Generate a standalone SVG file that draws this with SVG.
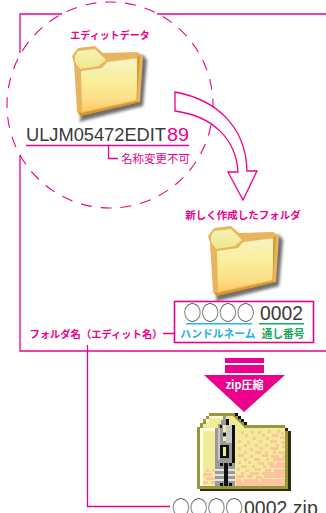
<svg xmlns="http://www.w3.org/2000/svg" width="326" height="513" viewBox="0 0 326 513">
<style>
.ln{fill:none;stroke:#ec008c;stroke-width:1.3}
.t{font-family:"Noto Sans CJK JP","Liberation Sans",sans-serif;fill:#ec008c;text-anchor:middle}
.b{font-weight:700}
.n{font-family:"Liberation Sans","Noto Sans CJK JP",sans-serif;fill:#3a3a3a}
.c{font-family:"Noto Sans CJK JP",sans-serif;fill:#444}
</style>
<defs>
<linearGradient id="fb" x1="0" y1="0" x2="0" y2="1"><stop offset="0" stop-color="#f7f4c4"/><stop offset=".4" stop-color="#f9ef9c"/><stop offset=".75" stop-color="#fde08a"/><stop offset="1" stop-color="#ffc860"/></linearGradient>
<linearGradient id="ft" x1="0" y1="0" x2="0" y2="1"><stop offset="0" stop-color="#f6f2b4"/><stop offset="1" stop-color="#efe88c"/></linearGradient>
<filter id="sh" x="-20%" y="-20%" width="140%" height="140%"><feGaussianBlur stdDeviation="1.5"/></filter>
<filter id="so" x="-5%" y="-5%" width="110%" height="110%"><feGaussianBlur stdDeviation=".45"/></filter>
<g id="folder">
<path d="M84 60L143 55L147 60L143 106L82 121L80 123Z" fill="#333" opacity=".7" filter="url(#sh)"/>
<g filter="url(#so)">
<path d="M78 48L95 46L103 53L137 52L143 56L140 102L80 116L77 112L74 63L72 56Z" fill="#e8b460"/>
<path d="M78 51L95 49L102 56L106 60L99 66L80 69L75 62L75 56Z" fill="url(#ft)"/>
<path d="M81 71L102 68L107 62L139 58L136 100L82 112Z" fill="url(#fb)"/>
<path d="M82 113L137 101L140 102L80 116L79 112Z" fill="#dc9420"/>
<path d="M137 57L140 56L137 101Z" fill="#dc9c30"/>
</g>
</g>
</defs>
<g id="connectors">
<path class="ln" d="M62 14H20V53M20 155V351H326M157 14H326"/>
<path class="ln" d="M163 333.500H174M87.500 345V506.500H170M108.500 146V158.500H118"/>
</g>
<g id="circle"><circle cx="110" cy="105" r="103" fill="none" stroke="#ec008c" stroke-width="1.1" stroke-dasharray="11 9"/></g>
<g id="big-arrow"><path d="M175 92C218 100 246 128 247 171L257 171L243 200L228 172L238 172C236 138 212 116 175 111Z" fill="#fff" stroke="#ec008c" stroke-width="1.300"/></g>
<g id="edit-data">
<text class="t b" x="110" y="39" font-size="10">エディットデータ</text>
<use href="#folder"/>
<text class="n" x="26" y="140.500" font-size="17.500" textLength="140" lengthAdjust="spacingAndGlyphs">ULJM05472EDIT</text>
<text class="n" x="167" y="140.500" font-size="17.500" textLength="22" lengthAdjust="spacingAndGlyphs" style="fill:#ec008c">89</text>
<path class="ln" d="M26 145.500H189"/>
<text class="t" x="155.500" y="163" font-size="11.500">名称変更不可</text>
</g>
<g id="new-folder">
<text class="t b" x="243" y="219" font-size="10.500">新しく作成したフォルダ</text>
<use href="#folder" x="136" y="180"/>
</g>
<g id="name-box">
<rect x="174.500" y="301.500" width="139" height="41" fill="#fff" stroke="#ec008c" stroke-width="1.600"/>
<text class="c" x="183.500" y="320" font-size="19" textLength="71" lengthAdjust="spacingAndGlyphs">○○○○</text>
<text class="n" x="260" y="320" font-size="19.300">0002</text>
<path d="M186 323.800H252" stroke="#22b8f0" stroke-width="1.600"/>
<path d="M259 323.800H304" stroke="#1aa860" stroke-width="1.600"/>
<text class="t b" x="218" y="338" font-size="10.800" style="fill:#22aee8">ハンドルネーム</text>
<text class="t b" x="283" y="338" font-size="10.800" style="fill:#1aa860">通し番号</text>
</g>
<g id="folder-label"><text class="t b" x="96" y="338" font-size="10.300">フォルダ名（エディット名）</text></g>
<g id="zip-arrow">
<path d="M225 358H264V363H225ZM225 365H264V373H225ZM204 375H285L244 412Z" fill="#ec008c"/>
<text class="t b" x="244.500" y="389" font-size="11" style="fill:#fff">zip圧縮</text>
</g>
<g id="zip-folder">
<path d="M209 413H235V416H238V419H241V422H244V425H285V428H288V489H197V427H200V423H203V419H206V416H209Z" fill="#99963c"/>
<path d="M285 428H288V431H291V491H200V489H288V431H285Z" fill="#2c2c14"/>
<path d="M235 413H238V416H241V419H244V422H247V425H244V422H241V419H238V416H235Z" fill="#111"/>
<path d="M200 428H203V424H206V420H209V416H233L244 427V428H285V486H200Z" fill="#f0ec98"/>
<path d="M200 428H222V431H203V486H200ZM206 422H209V418H222V416H209V419H206Z" fill="#fdfde8"/>
<path fill="#fcc4a0" d="M241 431h3v3h-3zM251 431h3v3h-3zM258 431h3v3h-3zM268 430h3v3h-3zM277 430h3v3h-3zM281 432h3v3h-3zM245 434h3v3h-3zM262 434h3v3h-3zM272 434h6v3h-6zM253 437h3v3h-3zM266 437h3v3h-3zM280 436h5v3h-5zM238 440h3v3h-3zM247 441h3v3h-3zM259 440h3v3h-3zM270 440h7v3h-7zM281 441h4v3h-4zM244 444h3v3h-3zM255 444h3v3h-3zM265 444h3v3h-3zM276 444h3v3h-3zM282 445h3v3h-3zM238 447h3v3h-3zM250 448h3v3h-3zM260 447h3v3h-3zM270 447h8v3h-8zM244 451h3v3h-3zM255 451h6v3h-6zM265 451h3v3h-3zM273 451h3v3h-3zM279 451h6v3h-6zM238 454h6v3h-6zM250 455h3v3h-3zM262 454h6v3h-6zM271 455h8v3h-8zM282 455h3v3h-3zM244 458h3v3h-3zM254 458h6v3h-6zM266 458h3v3h-3zM273 458h12v3h-12zM238 461h3v3h-3zM248 461h3v3h-3zM258 462h6v3h-6zM268 462h6v3h-6zM277 462h8v3h-8zM241 465h6v3h-6zM252 465h3v3h-3zM263 465h3v3h-3zM270 465h15v3h-15zM237 468h3v3h-3zM246 469h3v3h-3zM255 468h6v3h-6zM265 469h6v3h-6zM274 469h11v3h-11zM241 472h3v3h-3zM250 472h9v3h-9zM262 472h23v3h-23zM236 475h8v3h-8zM247 475h6v3h-6zM256 476h6v3h-6zM264 475h21v3h-21zM236 479h5v3h-5zM244 479h14v3h-14zM261 479h24v3h-24zM236 482h49v4h-49zM206 469h3v3h-3zM212 469h3v3h-3zM203 473h9v3h-9zM206 477h9v3h-9zM203 481h5v3h-5zM211 481h4v3h-4z"/>
<path d="M223 416H226V421H229V425H232V428H235V463H215V428H218V424H221V420H223Z" fill="#9a9a9a"/>
<path d="M215 463H235V486H215Z" fill="#9a9a9a"/>
<path d="M226 419H229V425H226ZM232 425H235V463H232ZM223 433H226V436H223ZM220 445H229V458H220ZM220 425H222V428H220Z" fill="#111"/>
<path d="M226 425H232V443H226ZM218 428H220V460H218Z" fill="#c8c8c8"/>
<path d="M223 447H226V456H223ZM223 425H226V432H223ZM223 437H226V441H223Z" fill="#f0ec98"/>
<path d="M215 469H235V471H215ZM215 474H235V476H215ZM215 479H235V481H215Z" fill="#e4e4e4"/>
<path d="M220 463H223V466H220ZM229 463H232V466H229ZM220 483H223V486H220ZM229 483H232V486H229ZM224 463H228V486H224Z" fill="#111"/>
</g>
<g id="zip-name">
<text class="c" x="172" y="515" font-size="19" textLength="71" lengthAdjust="spacingAndGlyphs">○○○○</text>
<text class="n" x="244" y="515" font-size="19.500">0002.zip</text>
</g>
</svg>
